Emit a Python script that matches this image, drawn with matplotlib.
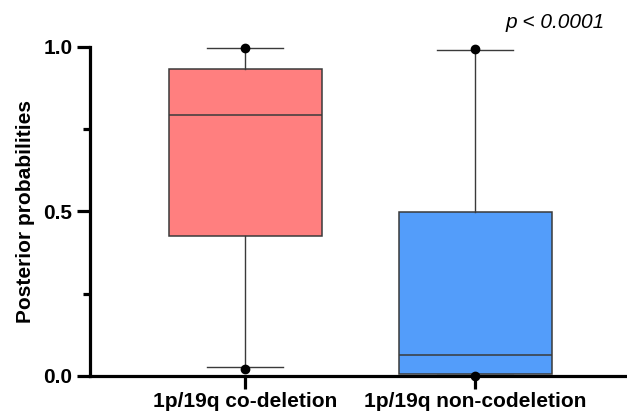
import matplotlib
matplotlib.use('Agg')
import matplotlib.pyplot as plt
from matplotlib.ticker import MultipleLocator

plt.rcParams['font.family'] = ['Liberation Sans', 'DejaVu Sans']

groups = ['1p/19q co-deletion', '1p/19q non-codeletion']
q1 = [0.424, 0.007]
med = [0.792, 0.065]
q3 = [0.932, 0.498]
whislo = [0.027, 0.002]
whishi = [0.995, 0.990]
dots = [[0.997, 0.022], [0.993, 0.0]]
colors = ['#FF7F7F', '#539DFA']
p_text = 'p < 0.0001'

stats = []
for i in range(len(groups)):
    stats.append(dict(label=groups[i], q1=q1[i], med=med[i], q3=q3[i],
                      whislo=whislo[i], whishi=whishi[i], fliers=dots[i]))

fig = plt.figure(figsize=(6.27, 4.18), dpi=100)
ax = fig.add_axes([0.1435, 0.1005, 0.8565, 0.7877])

bp = ax.bxp(stats, positions=[1, 2], widths=0.665, patch_artist=True,
            showfliers=True,
            boxprops=dict(edgecolor='#3a3a3a', linewidth=1.1),
            medianprops=dict(color='#3a3a3a', linewidth=1.1),
            whiskerprops=dict(color='#3a3a3a', linewidth=1.0),
            capprops=dict(color='#3a3a3a', linewidth=1.0),
            capwidths=0.33,
            flierprops=dict(marker='o', markerfacecolor='black', markeredgecolor='black',
                            markersize=6))
for patch, c in zip(bp['boxes'], colors):
    patch.set_facecolor(c)
for art in bp['fliers'] + bp['caps'] + bp['whiskers']:
    art.set_clip_on(False)

ax.set_xlim(0.326, 2.66)
ax.set_ylim(0, 1.0)
ax.yaxis.set_major_locator(MultipleLocator(0.5))
ax.yaxis.set_minor_locator(MultipleLocator(0.25))
ax.yaxis.set_major_formatter(matplotlib.ticker.FormatStrFormatter('%.1f'))

for s in ['top', 'right']:
    ax.spines[s].set_visible(False)
for s in ['left', 'bottom']:
    ax.spines[s].set_linewidth(2.3)

ax.tick_params(axis='y', which='major', length=9.5, width=2.3, labelsize=15, pad=3)
ax.tick_params(axis='y', which='minor', length=5, width=2.3)
ax.tick_params(axis='x', which='major', length=9.5, width=2.3, labelsize=15, pad=2)
for lab in ax.get_yticklabels() + ax.get_xticklabels():
    lab.set_fontweight('bold')

ax.set_ylabel('Posterior probabilities', fontsize=15, fontweight='bold', labelpad=6)

fig.text(0.965, 0.945, p_text, ha='right', va='center', fontsize=15, style='italic')

fig.savefig('out.png', dpi=100)
